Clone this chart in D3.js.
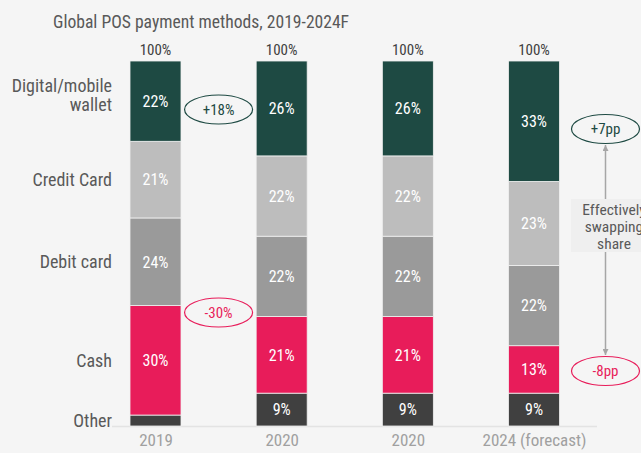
<!DOCTYPE html>
<html>
<head>
<meta charset="utf-8">
<script src="https://cdn.jsdelivr.net/npm/d3@7"></script>
<style>
  html, body { margin: 0; padding: 0; background: #f5f5f5; overflow: hidden; }
  svg { display: block; font-family: "Roboto Condensed", Roboto, sans-serif; }
</style>
</head>
<body>
<svg id="chart" width="641" height="453"></svg>
<script>
// ---- data ----
const periods = ["2019", "2020", "2020", "2024 (forecast)"];
const categories = ["Other", "Cash", "Debit card", "Credit Card", "Digital/mobile wallet"];
const other   = [3, 9, 9, 9];
const cash    = [30, 21, 21, 13];
const debit   = [24, 22, 22, 22];
const credit  = [21, 22, 22, 23];
const digital = [22, 26, 26, 33];
const totals  = ["100%", "100%", "100%", "100%"];
const changeLabels = ["+18%", "-30%"];
const forecastChange = ["+7pp", "-8pp"];
const noteLines = ["Effectively", "swapping", "share"];

const series = [other, cash, debit, credit, digital];
const colors = ["#404040", "#e81c5a", "#9a9a9a", "#bdbdbd", "#1e4a43"];

const svg = d3.select("#chart");

const x = d3.scalePoint().domain(d3.range(periods.length)).range([155.5, 534]);
const barW = 51;
const y = d3.scaleLinear().domain([0, 100]).range([426, 61]);

// stacked data
const rows = periods.map((p, i) => {
  const r = { i };
  categories.forEach((c, k) => r[c] = series[k][i]);
  return r;
});
const stack = d3.stack().keys(categories)(rows);

// title
svg.append("text")
  .attr("x", 53).attr("y", 27.5)
  .attr("fill", "#595959")
  .attr("font-size", 17.6)
  .text("Global POS payment methods, 2019-2024F");

// baseline
svg.append("line")
  .attr("x1", 112).attr("x2", 597)
  .attr("y1", y(0) + 0.5).attr("y2", y(0) + 0.5)
  .attr("stroke", "#e3e3e3").attr("stroke-width", 1.5);

// bars
const layers = svg.append("g").selectAll("g").data(stack).join("g")
  .attr("fill", (d, k) => colors[k]);

layers.selectAll("rect").data(d => d).join("rect")
  .attr("x", d => x(d.data.i) - barW / 2)
  .attr("width", barW)
  .attr("y", d => y(d[1]))
  .attr("height", d => y(d[0]) - y(d[1]))
  .attr("stroke", "#f0f0f0").attr("stroke-width", 0.8);

// value labels
layers.each(function(layer, k) {
  d3.select(this).selectAll("text").data(layer.filter(d => d[1] - d[0] >= 5)).join("text")
    .attr("x", d => x(d.data.i))
    .attr("y", d => (y(d[0]) + y(d[1])) / 2)
    .attr("dy", "0.36em")
    .attr("text-anchor", "middle")
    .attr("fill", "#ffffff")
    .attr("font-size", 16)
    .text(d => (d[1] - d[0]) + "%");
});

// totals
svg.append("g").selectAll("text").data(totals).join("text")
  .attr("x", (d, i) => x(i))
  .attr("y", 54.5)
  .attr("text-anchor", "middle")
  .attr("fill", "#404040")
  .attr("font-size", 15)
  .text(d => d);

// x axis labels
const xAxis = d3.axisBottom(x).tickSize(0).tickFormat(i => periods[i]);
const gx = svg.append("g").attr("transform", `translate(0,${y(0) + 5})`).call(xAxis);
gx.select(".domain").remove();
gx.selectAll("text").attr("fill", "#a0a0a0").attr("font-size", 17)
  .attr("font-family", "'Roboto Condensed', Roboto, sans-serif");

// category labels (aligned with first bar segments)
const first = stack.map(layer => layer[0]);
const catG = svg.append("g");
categories.forEach((c, k) => {
  const s = first[k];
  const cy = (y(s[0]) + y(s[1])) / 2;
  const lines = c === "Digital/mobile wallet" ? ["Digital/mobile", "wallet"] : [c];
  const t = catG.append("text")
    .attr("x", 112).attr("text-anchor", "end")
    .attr("fill", "#595959").attr("font-size", 18);
  lines.forEach((ln, j) => {
    t.append("tspan").attr("x", 112)
      .attr("y", cy + (j - (lines.length - 1) / 2) * 19 - (lines.length > 1 ? 6 : 0))
      .attr("dy", "0.36em").text(ln);
  });
});

// change ellipses
const midX = (x(0) + x(1)) / 2;
const ell = [
  { label: changeLabels[0], cx: midX, cy: 109.5, color: "#1e4a43" },
  { label: changeLabels[1], cx: midX, cy: 312.5, color: "#e81c5a" },
  { label: forecastChange[0], cx: 605.5, cy: 129, color: "#1e4a43" },
  { label: forecastChange[1], cx: 605.5, cy: 371, color: "#e81c5a" }
];

// arrow with note
const defs = svg.append("defs");
defs.append("marker").attr("id", "ah").attr("viewBox", "0 0 10 10")
  .attr("refX", 10).attr("refY", 5).attr("markerWidth", 4).attr("markerHeight", 4)
  .attr("orient", "auto-start-reverse")
  .append("path").attr("d", "M0,0L10,5L0,10Z").attr("fill", "#a6a6a6");

svg.append("line")
  .attr("x1", 605.5).attr("x2", 605.5).attr("y1", 145).attr("y2", 355)
  .attr("stroke", "#a6a6a6").attr("stroke-width", 1.5)
  .attr("marker-start", "url(#ah)").attr("marker-end", "url(#ah)");

svg.append("rect").attr("x", 571).attr("y", 199).attr("width", 100).attr("height", 53)
  .attr("fill", "#efefef");
const note = svg.append("text").attr("text-anchor", "middle").attr("fill", "#595959").attr("font-size", 15.5);
noteLines.forEach((ln, j) => {
  note.append("tspan").attr("x", 614).attr("y", 209 + j * 17).attr("dy", "0.36em").text(ln);
});

const eg = svg.append("g").selectAll("g").data(ell).join("g");
eg.append("ellipse")
  .attr("cx", d => d.cx).attr("cy", d => d.cy)
  .attr("rx", 34).attr("ry", 14.5)
  .attr("fill", "none").attr("stroke", d => d.color).attr("stroke-width", 1.2);
eg.append("text")
  .attr("x", d => d.cx).attr("y", d => d.cy).attr("dy", "0.36em")
  .attr("text-anchor", "middle").attr("fill", d => d.color)
  .attr("font-size", 15)
  .text(d => d.label);
</script>
</body>
</html>
